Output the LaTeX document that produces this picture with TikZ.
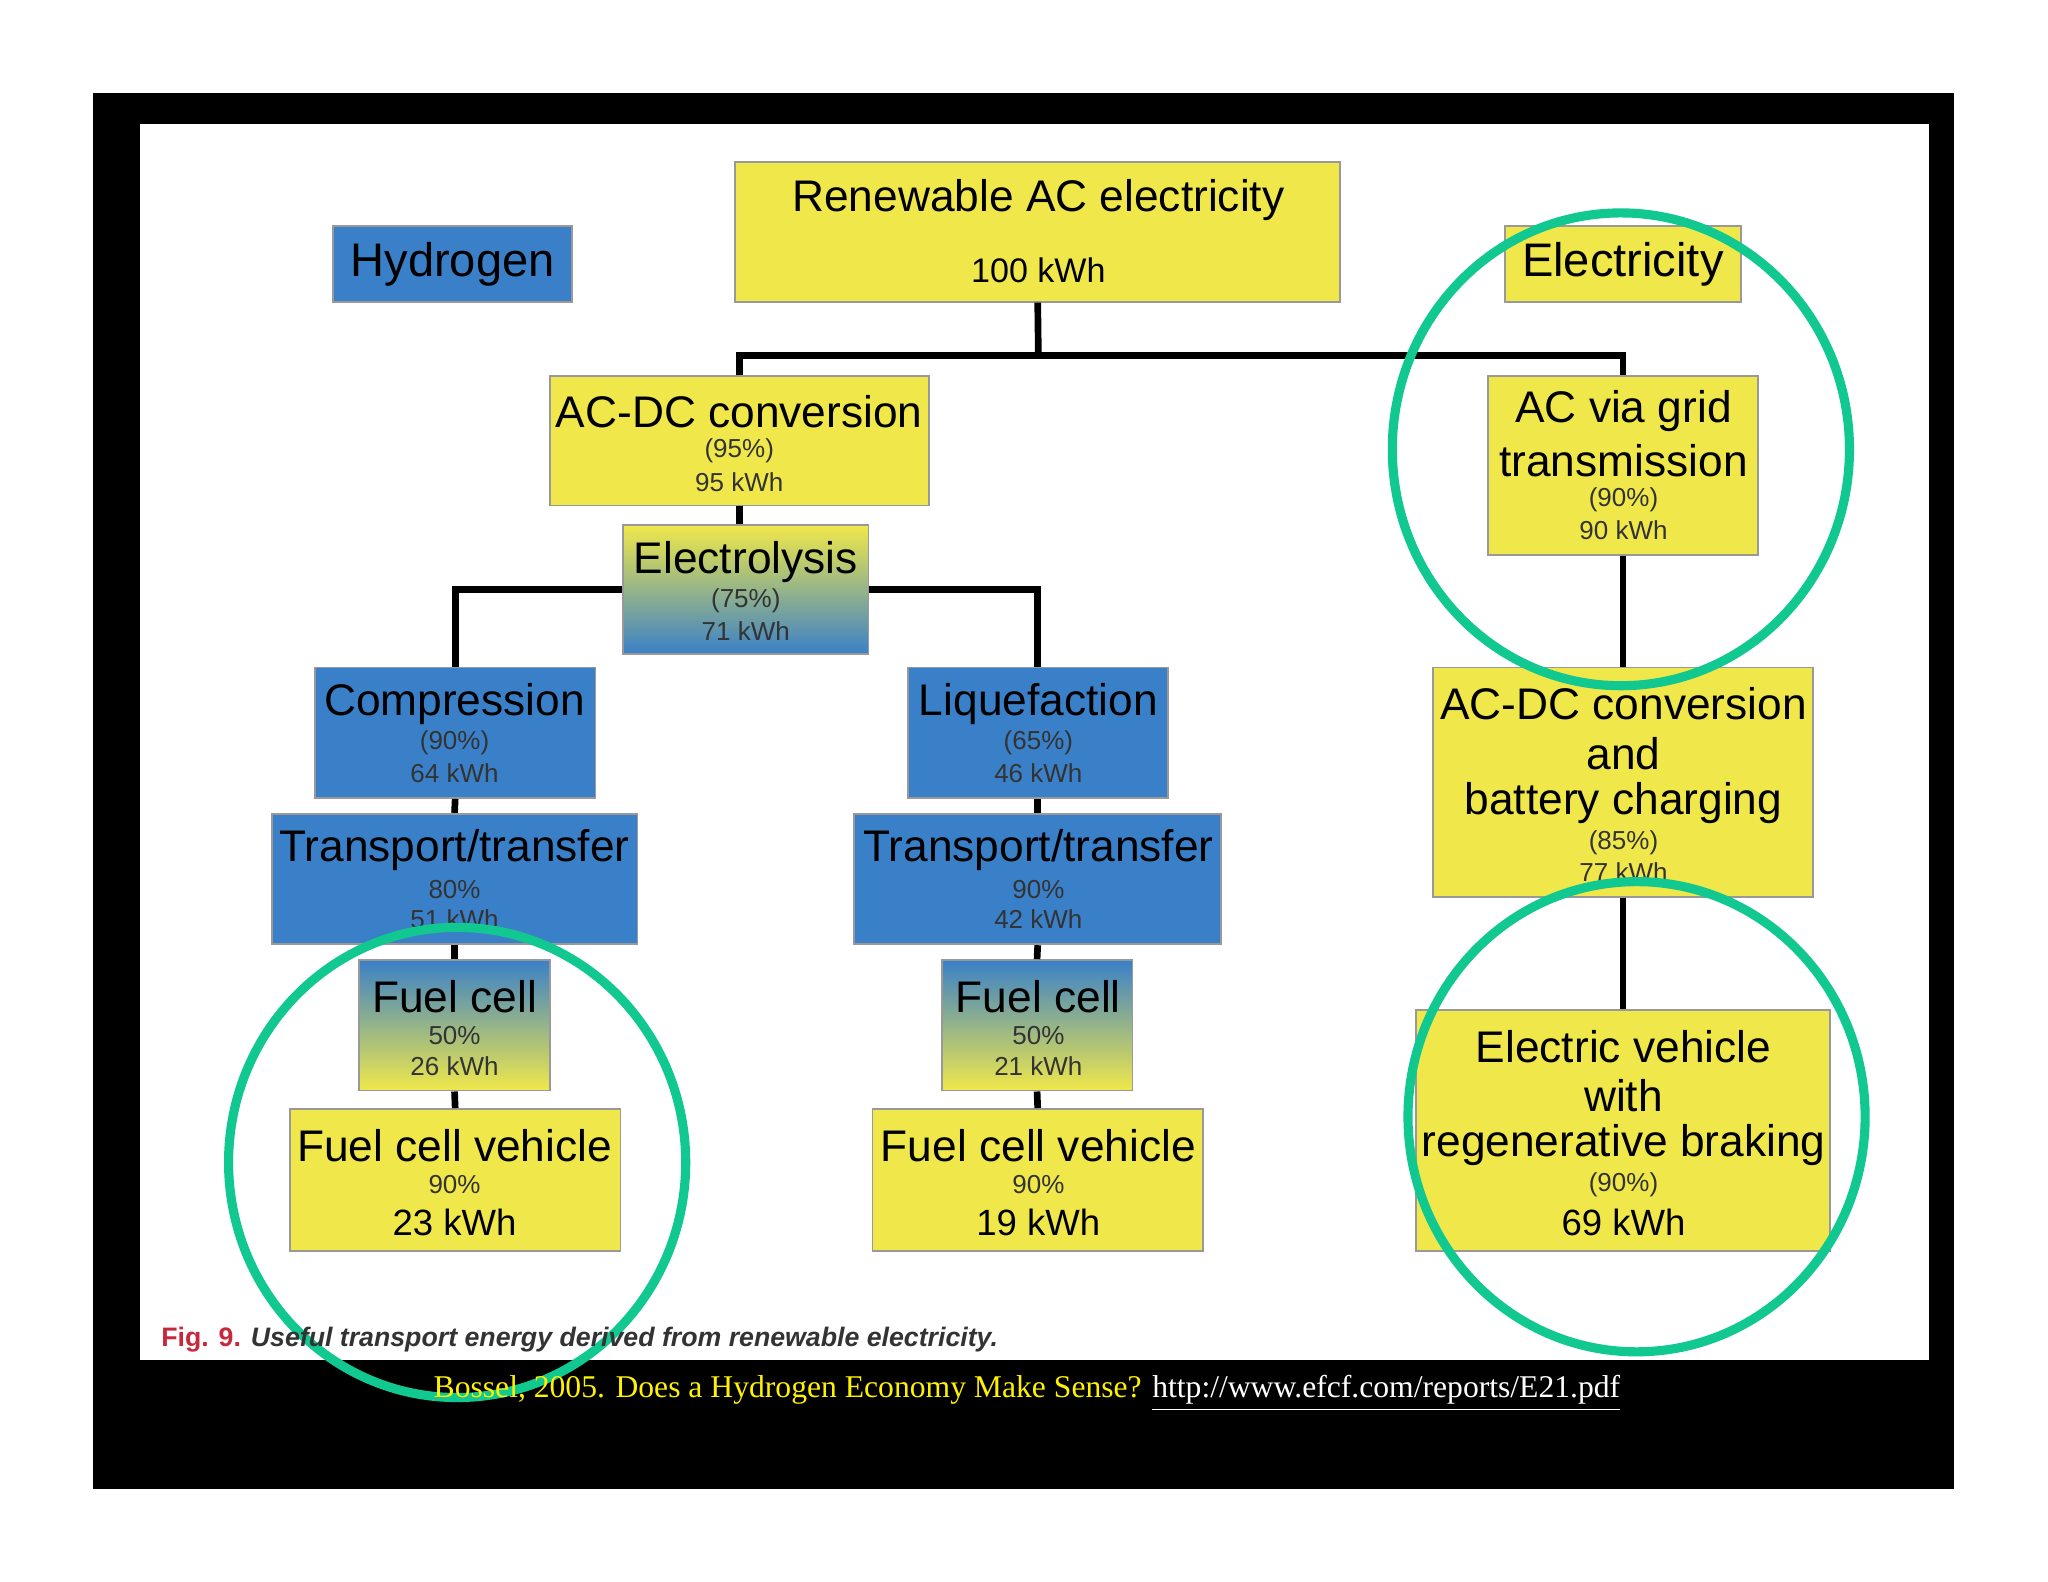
\documentclass[tikz,border=0pt]{standalone}
\usepackage{fontspec}
\setmainfont{Liberation Sans}
\newfontfamily\serifcite{Liberation Serif}
\usetikzlibrary{fit}
\definecolor{hyblue}{RGB}{58,128,200}
\definecolor{elyellow}{RGB}{240,232,74}
\definecolor{ringgreen}{RGB}{16,200,144}
\definecolor{figred}{RGB}{200,40,60}
\newcommand{\bigt}{\fontsize{12.6}{14}\selectfont}
\newcommand{\midt}{\fontsize{9.7}{11}\selectfont}
\newcommand{\smallt}{\fontsize{7.4}{9}\selectfont}
\tikzset{
  box/.style={draw=black!40, line width=0.5pt, inner sep=0pt},
  yel/.style={box, fill=elyellow},
  blu/.style={box, fill=hyblue},
  ytob/.style={box, top color=elyellow, bottom color=hyblue},
  btoy/.style={box, top color=hyblue, bottom color=elyellow},
  conn/.style={line width=1.9pt},
  ring/.style={draw=ringgreen, line width=2.6pt},
  big/.style={font=\bigt, inner sep=0pt},
  mid/.style={font=\midt, inner sep=0pt},
  sml/.style={font=\smallt, inner sep=0pt, text=black!80},
}
\begin{document}
\begin{tikzpicture}[x=0.01306cm, y=-0.01306cm]
  \path[use as bounding box, fill=white] (0,0) rectangle (1568,1211);
  \fill[black] (71,71) rectangle (1496,1140);
  \fill[white] (107,95) rectangle (1477,1041);

  % legend boxes
  \node[blu, fit={(255,173)(438,231)}] (hyd) {};
  \node[font=\fontsize{13.4}{15}\selectfont] (hydT) at (hyd) {Hydrogen};
  \node[yel, fit={(1152,173)(1333,231)}] (ele) {};
  \node[font=\fontsize{13.4}{15}\selectfont] (eleT) at (ele) {Electricity};

  % source
  \node[yel, fit={(563,124)(1026,231)}] (renew) {};
  \node[big] (renewT) at (795,153) {Renewable AC electricity};
  \node[mid] (renewE) at (795,207) {100 kWh};

  % hydrogen path
  \node[yel, fit={(421,288)(711,387)}] (acdc) {};
  \node[big] (acdcT) at (566,315) {AC-DC conversion};
  \node[sml] (acdcP) at (566,345) {(95\%)};
  \node[sml] (acdcE) at (566,369) {95 kWh};

  \node[ytob, fit={(477,402)(665,501)}] (lysis) {};
  \node[big] (lysisT) at (571,430) {Electrolysis};
  \node[sml] (lysisP) at (571,460) {(75\%)};
  \node[sml] (lysisE) at (571,483) {71 kWh};

  \node[blu, fit={(241,511)(456,611)}] (comp) {};
  \node[big] (compT) at (348,539) {Compression};
  \node[sml] (compP) at (348,569) {(90\%)};
  \node[sml] (compE) at (348,592) {64 kWh};

  \node[blu, fit={(695,511)(894,611)}] (liq) {};
  \node[big] (liqT) at (795,539) {Liquefaction};
  \node[sml] (liqP) at (795,569) {(65\%)};
  \node[sml] (liqE) at (795,592) {46 kWh};

  \node[blu, fit={(208,623)(488,723)}] (transL) {};
  \node[big] (transLT) at (348,651) {Transport/transfer};
  \node[sml] (transLP) at (348,681) {80\%};
  \node[sml] (transLE) at (348,704) {51 kWh};

  \node[blu, fit={(654,623)(935,723)}] (transR) {};
  \node[big] (transRT) at (795,651) {Transport/transfer};
  \node[sml] (transRP) at (795,681) {90\%};
  \node[sml] (transRE) at (795,704) {42 kWh};

  \node[btoy, fit={(275,735)(421,835)}] (cellL) {};
  \node[big] (cellLT) at (348,763) {Fuel cell};
  \node[sml] (cellLP) at (348,793) {50\%};
  \node[sml] (cellLE) at (348,816) {26 kWh};

  \node[btoy, fit={(721,735)(867,835)}] (cellR) {};
  \node[big] (cellRT) at (795,763) {Fuel cell};
  \node[sml] (cellRP) at (795,793) {50\%};
  \node[sml] (cellRE) at (795,816) {21 kWh};

  \node[yel, fit={(222,849)(475,958)}] (fcvL) {};
  \node[big] (fcvLT) at (348,877) {Fuel cell vehicle};
  \node[sml] (fcvLP) at (348,907) {90\%};
  \node[font=\fontsize{10.4}{12}\selectfont, inner sep=0pt] (fcvLE) at (348,936) {23 kWh};

  \node[yel, fit={(668,849)(921,958)}] (fcvR) {};
  \node[big] (fcvRT) at (795,877) {Fuel cell vehicle};
  \node[sml] (fcvRP) at (795,907) {90\%};
  \node[font=\fontsize{10.4}{12}\selectfont, inner sep=0pt] (fcvRE) at (795,936) {19 kWh};

  % electricity path
  \node[yel, fit={(1139,288)(1346,425)}] (grid) {};
  \node[big] (gridT) at (1243,315) {AC via grid};
  \node[big] (gridU) at (1243,353) {transmission};
  \node[sml] (gridP) at (1243,383) {(90\%)};
  \node[sml] (gridE) at (1243,406) {90 kWh};

  \node[yel, fit={(1097,511)(1388,687)}] (batt) {};
  \node[big] (battT) at (1243,539) {AC-DC conversion};
  \node[big] (battU) at (1243,577) {and};
  \node[big] (battV) at (1243,615) {battery charging};
  \node[sml] (battP) at (1243,645) {(85\%)};
  \node[sml] (battE) at (1243,668) {77 kWh};

  \node[yel, fit={(1084,773)(1401,958)}] (ev) {};
  \node[big] (evT) at (1243,801) {Electric vehicle};
  \node[big] (evU) at (1243,839) {with};
  \node[big] (evV) at (1243,877) {regenerative braking};
  \node[sml] (evP) at (1243,907) {(90\%)};
  \node[font=\fontsize{10.4}{12}\selectfont, inner sep=0pt] (evE) at (1243,936) {69 kWh};

  % connectors
  \coordinate (split) at (795,272);
  \draw[conn] (renew.south) -- (split);
  \draw[conn] (acdc.north) |- (split) -| (grid.north);
  \draw[conn] (acdc.south) -- (acdc.south |- lysis.north);
  \draw[conn] (lysis.west) -| (comp.north);
  \draw[conn] (lysis.east) -| (liq.north);
  \foreach \a/\b in {comp/transL, transL/cellL, cellL/fcvL,
                     liq/transR, transR/cellR, cellR/fcvR,
                     grid/batt, batt/ev}
    {\draw[conn] (\a.south) -- (\b.north);}

  % rings
  \draw[ring] (1241,344) ellipse (175 and 181);
  \draw[ring] (1253,855) ellipse (175 and 180);
  \draw[ring] (350,890) ellipse (175 and 180);

  % caption and source
  \node[anchor=west, inner sep=0pt, font=\fontsize{7.6}{9}\selectfont\bfseries] (cap) at (123,1026)
    {\textcolor{figred}{Fig. 9.} \textit{\textcolor{black!80}{Useful transport energy derived from renewable electricity.}}};
  \node[anchor=east, inner sep=0pt, font=\serifcite\fontsize{9}{11}\selectfont] (cite) at (1241,1067)
    {\textcolor{yellow}{Bossel, 2005. Does a Hydrogen Economy Make Sense?} \textcolor{white}{\underline{http://www.efcf.com/reports/E21.pdf}}};
\end{tikzpicture}
\end{document}
